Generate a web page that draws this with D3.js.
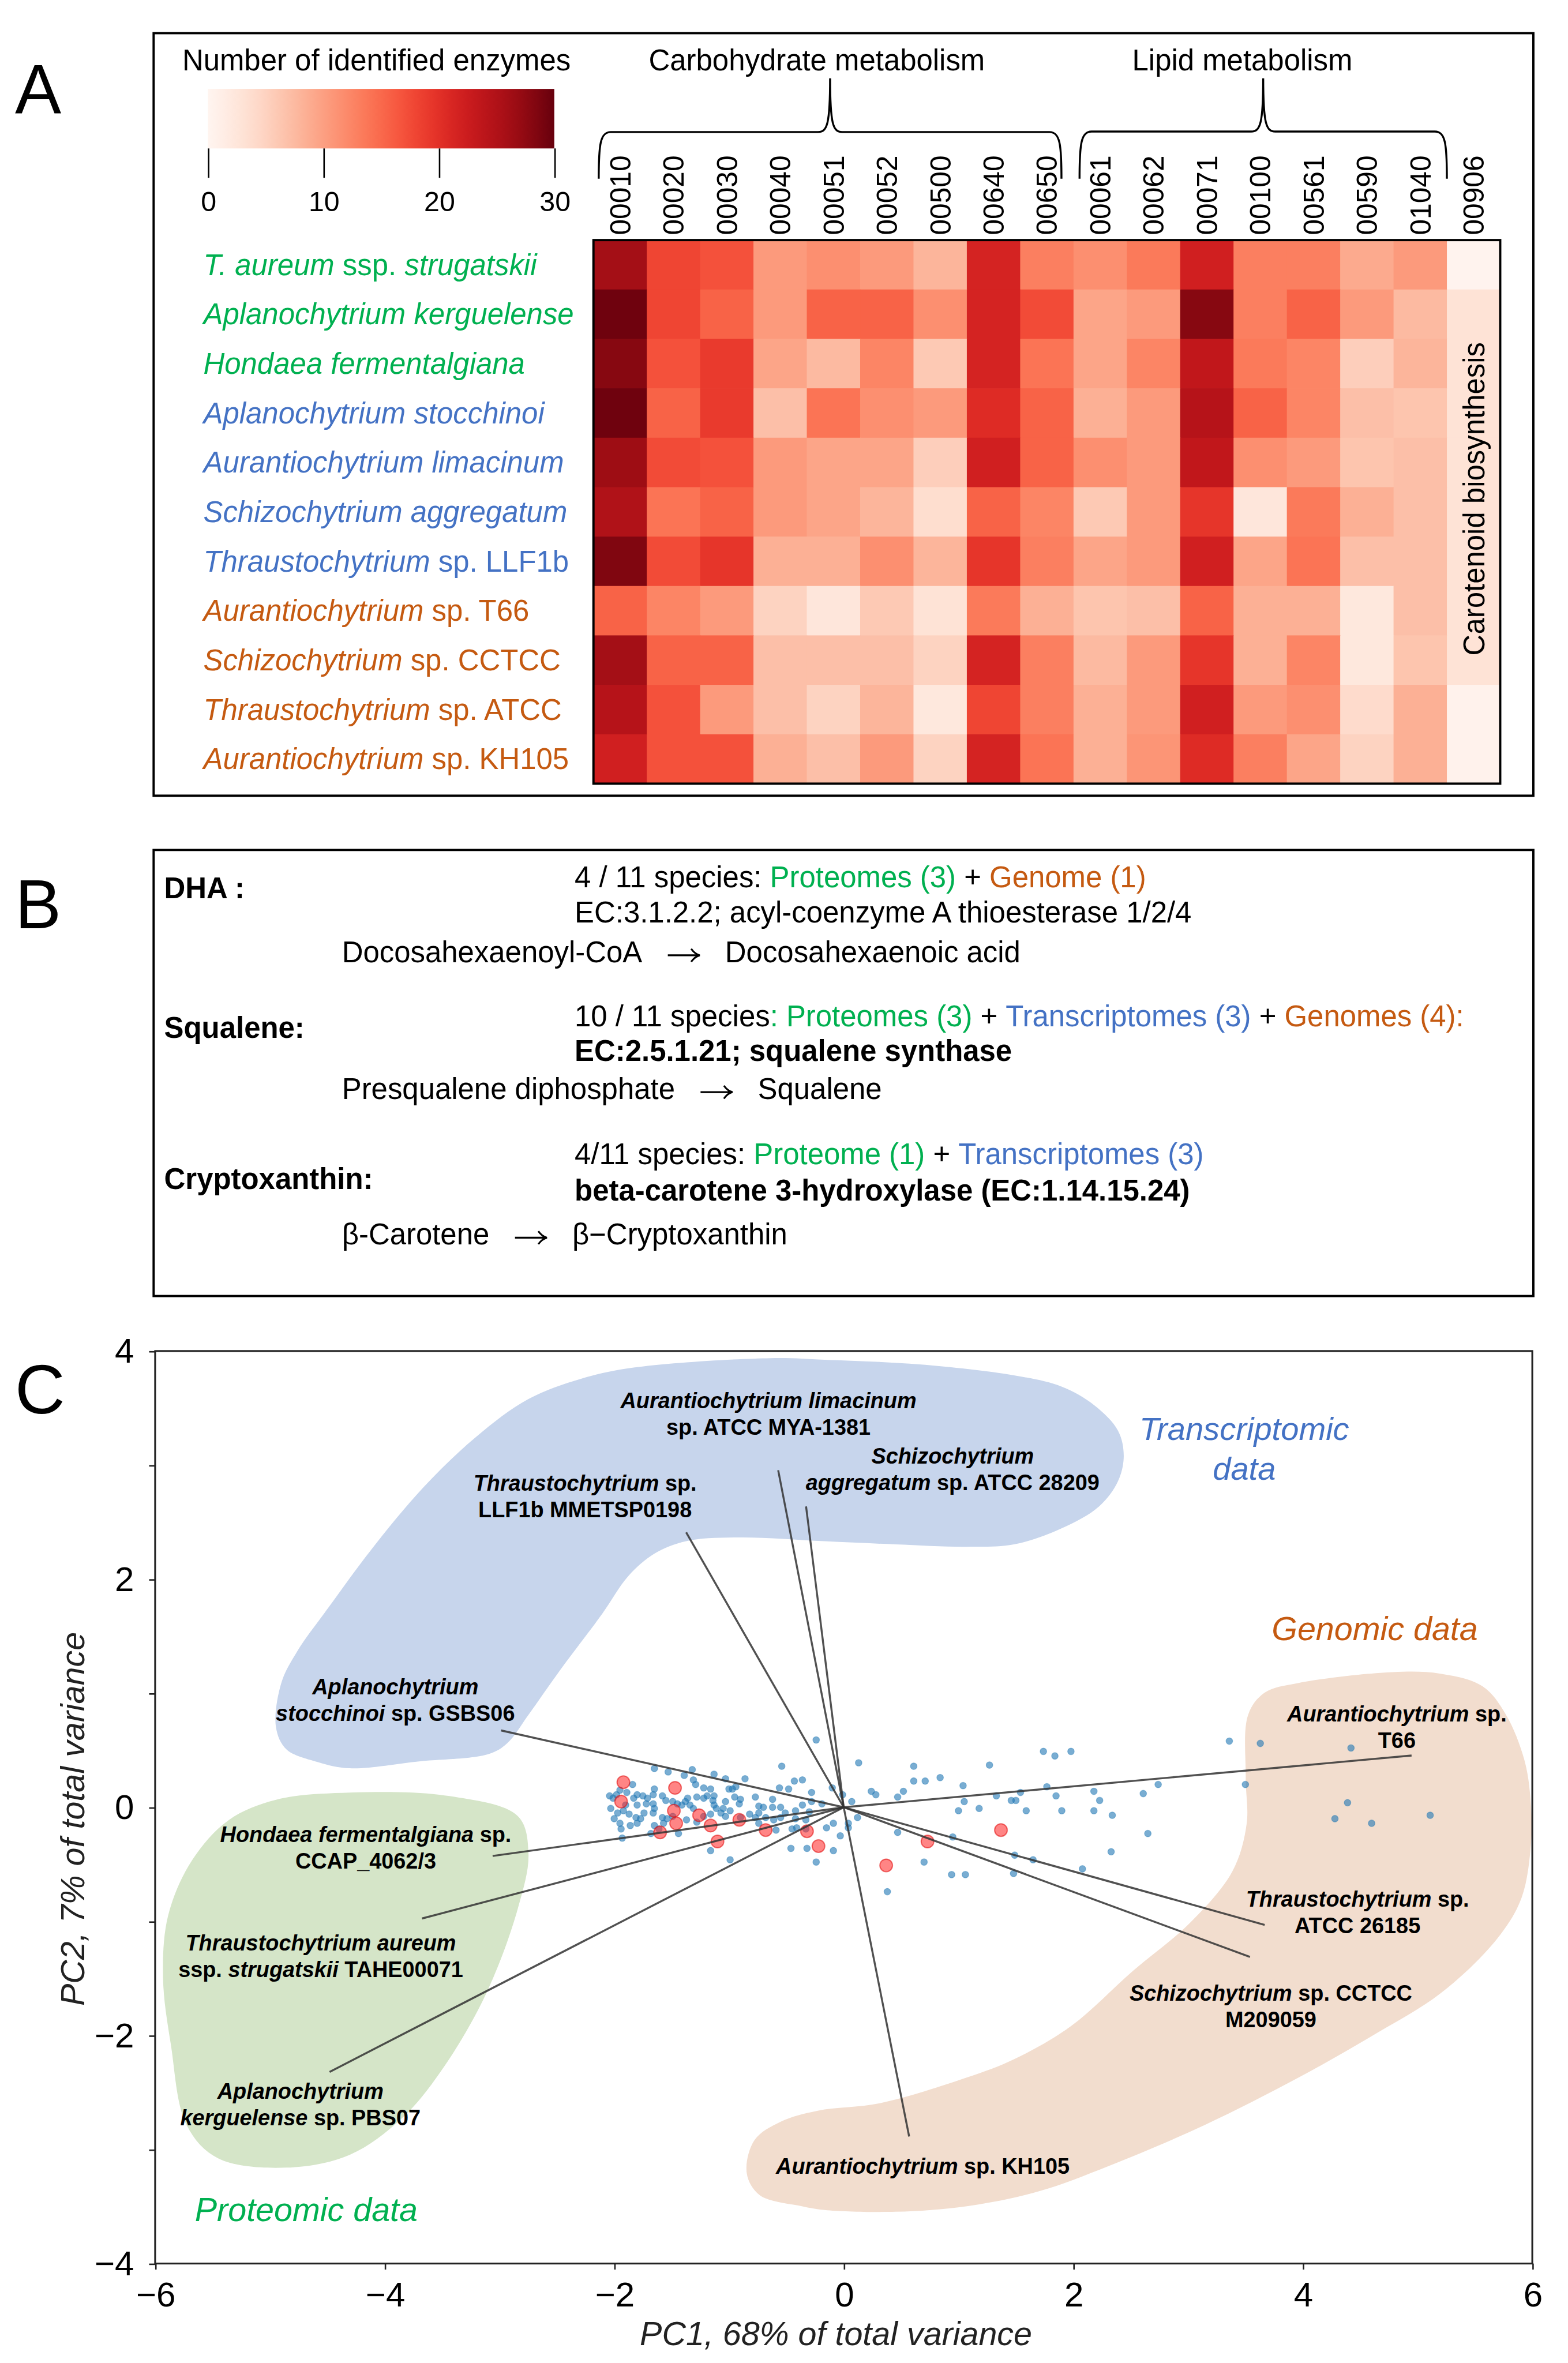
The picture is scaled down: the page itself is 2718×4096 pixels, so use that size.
<!DOCTYPE html>
<html>
<head>
<meta charset="utf-8">
<script src="https://cdn.jsdelivr.net/npm/d3@7"></script>
<style>
  body { margin: 0; background: #fff; }
  text { font-family: "Liberation Sans", Arial, sans-serif; white-space: pre; }
</style>
</head>
<body>
<script>
// ---------- panel A data ----------
var pathways = ["00010", "00020", "00030", "00040", "00051", "00052", "00500", "00640", "00650",
  "00061", "00062", "00071", "00100", "00561", "00590", "01040", "00906"];

var speciesNames = [
  [["T. aureum", "i"], [" ssp. ", "n"], ["strugatskii", "i"]],
  [["Aplanochytrium kerguelense", "i"]],
  [["Hondaea fermentalgiana", "i"]],
  [["Aplanochytrium stocchinoi", "i"]],
  [["Aurantiochytrium limacinum", "i"]],
  [["Schizochytrium aggregatum", "i"]],
  [["Thraustochytrium", "i"], [" sp. LLF1b", "n"]],
  [["Aurantiochytrium", "i"], [" sp. T66", "n"]],
  [["Schizochytrium", "i"], [" sp. CCTCC", "n"]],
  [["Thraustochytrium", "i"], [" sp. ATCC", "n"]],
  [["Aurantiochytrium", "i"], [" sp. KH105", "n"]]
];
var speciesSource = ["proteome", "proteome", "proteome", "transcriptome", "transcriptome", "transcriptome",
  "transcriptome", "genome", "genome", "genome", "genome"];
var sourceColors = { proteome: "#00b050", transcriptome: "#4472c4", genome: "#c55a11" };

// number of identified enzymes, one row per species, one column per pathway
var enzymeCounts = [
  [26, 18, 17, 10.5, 11.5, 10.5, 8, 21.5, 13, 11.5, 13.5, 22, 13, 13, 9, 10.5, 0.3],
  [29.5, 18, 15.5, 10.5, 15.5, 15.5, 11.5, 21.5, 17.5, 9.5, 10.5, 28, 13, 15.5, 10.5, 7.5, 3],
  [28, 17, 19, 9.5, 7.5, 12.5, 6, 21.5, 14, 9.5, 12.5, 23.5, 13.5, 12.5, 5.5, 8, 3],
  [29.5, 15.5, 19, 7, 14, 11.5, 10.5, 20.5, 15.5, 8.5, 10.5, 24.5, 15.5, 12.5, 7, 6.5, 3],
  [26.5, 17.5, 17, 10.5, 9.5, 9.5, 5.5, 22, 15.5, 11.5, 10.5, 23.5, 11.5, 10.5, 6.5, 7, 3],
  [25, 14, 15.5, 10.5, 9.5, 8, 3.7, 15.5, 12.5, 6, 10.5, 19.5, 2.5, 13.5, 8.5, 7, 3],
  [28.5, 17.5, 19.5, 8.5, 8.5, 11.5, 8, 19.5, 13, 9.5, 10.5, 22, 9.5, 14, 7, 7, 3],
  [15.5, 12.5, 10.5, 5, 2.5, 6, 3, 13.5, 8.5, 6.5, 7, 15.5, 8.5, 8.5, 2.3, 7, 3],
  [26, 15.5, 15.5, 7, 7, 7, 5, 21.5, 13, 7.5, 10.5, 19.5, 8.5, 12.5, 2.3, 6.5, 3],
  [24.5, 17, 10.5, 7, 5, 8, 2.3, 18, 13, 8.5, 10.5, 22, 10.5, 11.5, 4, 8.5, 0.5],
  [22, 17, 17, 8.5, 7, 10.5, 5, 21.5, 14, 8.5, 11, 20.5, 13, 9.5, 5, 8.5, 0.5]
];
var legendTicks = [0, 10, 20, 30];

// ---------- panel B text ----------
var noteTitles = ["DHA :", "Squalene:", "Cryptoxanthin:"];
var noteSources = [
  [["4 / 11 species: ", "k"], ["Proteomes (3)", "p"], [" + ", "k"], ["Genome (1)", "g"]],
  [["10 / 11 species", "k"], [": Proteomes (3)", "p"], [" + ", "k"], ["Transcriptomes (3)", "t"], [" + ", "k"], ["Genomes (4):", "g"]],
  [["4/11 species: ", "k"], ["Proteome (1)", "p"], [" + ", "k"], ["Transcriptomes (3)", "t"]]
];
var noteEnzymes = ["EC:3.1.2.2; acyl-coenzyme A thioesterase 1/2/4", "EC:2.5.1.21; squalene synthase",
  "beta-carotene 3-hydroxylase (EC:1.14.15.24)"];
var noteEnzymeBold = [false, true, true];
var noteReactions = [["Docosahexaenoyl-CoA", "Docosahexaenoic acid"], ["Presqualene diphosphate", "Squalene"],
  ["β-Carotene", "β−Cryptoxanthin"]];

// ---------- panel C data ----------
var geneScores = [
  [-0.24,0.59],[-0.54,0.36],[0.13,0.39],[0.61,0.36],[1.27,0.37],[1.74,0.49],[1.84,0.45],[1.98,0.49],
  [0.84,0.26],[0.61,0.23],[0.71,0.23],[1.04,0.19],[1.77,0.18],[2.18,0.14],[1.85,0.10],[1.54,0.13],
  [1.33,0.10],[1.46,0.06],[1.50,0.06],[1.05,0.05],[1.00,-0.03],[1.18,-0.01],[1.59,-0.03],[1.90,-0.03],
  [2.18,-0.03],[2.23,0.06],[0.52,0.14],[0.47,0.09],[0.28,0.11],[0.24,0.14],[0.07,0.05],[-0.10,0.17],
  [-0.19,0.03],[-0.28,0.13],[-0.28,0.05],[-0.36,0.24],[-0.43,0.23],[-0.48,0.16],[-0.56,0.17],[-0.55,0.00],
  [-0.62,0.00],[-0.62,0.07],[-0.70,0.00],[-0.74,0.01],[-0.77,0.09],[-0.86,0.25],[-1.03,0.25],[-1.13,0.29],
  [-1.32,0.33],[-1.39,0.28],[-1.53,0.31],[-1.65,0.34],[-1.65,0.16],[-1.31,0.24],[-1.29,0.20],[-1.22,0.17],
  [-1.16,0.16],[-1.00,0.16],[-0.97,0.16],[-0.94,0.18],[-0.95,0.09],[-0.90,0.07],[-0.91,0.03],[-1.03,0.05],
  [-1.14,0.06],[-1.13,0.10],[-1.19,0.10],[-1.22,0.08],[-1.28,0.09],[-1.36,0.08],[-1.38,0.05],[-1.34,0.02],
  [-1.31,-0.01],[-1.41,0.02],[-1.45,0.03],[-1.49,0.05],[-1.55,0.06],[-1.58,0.10],[-1.66,0.11],[-1.71,0.08],
  [-1.75,0.10],[-1.80,0.11],[-1.83,0.08],[-1.89,0.13],[-1.84,0.20],[-1.95,0.15],[-1.98,0.11],[-2.04,0.10],
  [-2.01,0.08],[-2.03,-0.01],[-1.97,-0.05],[-2.00,-0.10],[-1.95,-0.14],[-1.94,-0.19],[-1.86,-0.16],[-1.80,-0.14],
  [-1.77,-0.10],[-1.74,-0.05],[-1.81,-0.09],[-1.87,-0.06],[-1.92,-0.03],[-1.90,0.02],[-1.80,0.02],[-1.72,0.03],
  [-1.66,0.03],[-1.65,-0.01],[-1.66,-0.05],[-1.58,-0.09],[-1.54,-0.10],[-1.49,-0.08],[-1.57,-0.14],[-1.65,-0.16],
  [-1.68,-0.23],[-1.61,-0.19],[-1.44,-0.23],[-1.37,-0.11],[-1.28,-0.13],[-1.22,-0.08],[-1.16,-0.06],[-1.07,-0.05],
  [-1.03,-0.08],[-0.99,-0.03],[-1.05,-0.01],[-1.11,-0.01],[-1.13,0.02],[-0.90,-0.09],[-0.82,-0.06],[-0.77,-0.09],
  [-0.74,-0.05],[-0.74,-0.14],[-0.68,-0.09],[-0.61,-0.11],[-0.59,-0.20],[-0.55,-0.09],[-0.51,-0.05],[-0.42,-0.10],
  [-0.33,-0.11],[-0.33,-0.19],[-0.41,-0.18],[-0.45,-0.19],[-0.46,-0.36],[-0.32,-0.36],[-0.15,-0.18],[-0.09,-0.14],
  [-0.09,-0.38],[-0.03,-0.25],[0.04,-0.14],[0.04,-0.18],[0.12,-0.09],[-0.24,-0.48],[-0.99,-0.46],[-1.16,-0.38],
  [-1.93,-0.27],[0.47,-0.22],[0.95,-0.26],[1.49,-0.42],[1.65,-0.46],[1.48,-0.58],[1.06,-0.59],[0.94,-0.59],
  [0.70,-0.48],[0.38,-0.74],[2.08,-0.54],[-0.01,0.11],[-0.30,-0.04],[-0.42,-0.03],[-0.36,0.02],
  [3.36,0.58],[3.63,0.56],[4.42,0.52],[2.61,0.12],[2.74,0.20],[3.50,0.20],[4.39,0.04],[4.28,-0.10],
  [4.60,-0.14],[5.11,-0.07],[2.34,-0.07],[2.65,-0.23],[2.33,-0.39]
];
var highlightScores = [
  [-1.92,0.22],[-1.94,0.05],[-1.47,0.17],[-1.48,-0.03],[-1.46,-0.14],[-1.26,-0.07],[-1.16,-0.16],[-0.91,-0.11],
  [-1.60,-0.22],[-1.10,-0.30],[-0.68,-0.20],[-0.32,-0.21],[-0.22,-0.34],[0.37,-0.51],[0.73,-0.30],[1.37,-0.20]
];

var loadingPC1 = [-0.571, -1.373, -0.328, -2.986, -3.059, -3.675, -4.480, 4.948, 3.668, 3.540, 0.570];
var loadingPC2 = [2.955, 2.411, 2.638, 0.674, -0.427, -0.975, -2.320, 0.454, -1.031, -1.312, -2.886];
// label lines: [text, "i" italic | "n" upright]
var loadingLabels = [
  [[["Aurantiochytrium limacinum", "i"]], [["sp. ATCC MYA-1381", "n"]]],
  [[["Thraustochytrium", "i"], [" sp.", "n"]], [["LLF1b MMETSP0198", "n"]]],
  [[["Schizochytrium", "i"]], [["aggregatum", "i"], [" sp. ATCC 28209", "n"]]],
  [[["Aplanochytrium", "i"]], [["stocchinoi", "i"], [" sp. GSBS06", "n"]]],
  [[["Hondaea fermentalgiana", "i"], [" sp.", "n"]], [["CCAP_4062/3", "n"]]],
  [[["Thraustochytrium aureum", "i"]], [["ssp. ", "n"], ["strugatskii", "i"], [" TAHE00071", "n"]]],
  [[["Aplanochytrium", "i"]], [["kerguelense", "i"], [" sp. PBS07", "n"]]],
  [[["Aurantiochytrium", "i"], [" sp.", "n"]], [["T66", "n"]]],
  [[["Thraustochytrium", "i"], [" sp.", "n"]], [["ATCC 26185", "n"]]],
  [[["Schizochytrium", "i"], [" sp. CCTCC", "n"]], [["M209059", "n"]]],
  [[["Aurantiochytrium", "i"], [" sp. KH105", "n"]]]
];
var labelPC1 = [-0.656, -2.254, 0.949, -3.907, -4.165, -4.557, -4.734, 4.82, 4.477, 3.722, 0.689];
var labelPC2 = [3.501, 2.776, 3.011, 0.992, -0.305, -1.256, -2.556, 0.752, -0.869, -1.698, -3.214];

// outlines of the shaded groups, in PC coordinates
var transcriptomicArea = [[-0.639,3.938],[-0.167,3.924],[0.659,3.883],[1.483,3.787],[1.895,3.689],[2.184,3.524],
  [2.390,3.302],[2.440,3.081],[2.390,2.859],[2.225,2.638],[1.895,2.444],[1.483,2.305],[1.071,2.284],[0.453,2.305],
  [-0.167,2.333],[-0.915,2.366],[-1.373,2.333],[-1.647,2.225],[-1.877,2.027],[-2.105,1.696],[-2.473,1.200],
  [-2.747,0.811],[-2.931,0.563],[-3.091,0.468],[-3.701,0.402],[-4.305,0.342],[-4.581,0.396],[-4.855,0.507],
  [-4.947,0.702],[-4.901,1.089],[-4.763,1.366],[-4.489,1.752],[-4.123,2.251],[-3.663,2.804],[-3.205,3.246],
  [-2.747,3.579],[-2.289,3.757],[-1.831,3.855]];
var genomicArea = [[3.524,0.811],[3.668,1.005],[3.957,1.089],[4.781,1.185],[5.194,1.172],[5.565,1.062],[5.771,0.811],
  [5.936,0.396],[5.990,-0.008],[5.990,-0.305],[5.908,-0.789],[5.700,-1.144],[5.205,-1.628],[4.585,-2.015],
  [3.965,-2.369],[3.140,-2.788],[2.313,-3.143],[1.693,-3.369],[1.074,-3.497],[0.453,-3.546],[-0.167,-3.530],
  [-0.365,-3.497],[-0.731,-3.401],[-0.845,-3.208],[-0.777,-2.917],[-0.549,-2.756],[-0.227,-2.660],[0.314,-2.595],
  [1.074,-2.369],[1.486,-2.208],[1.982,-1.917],[2.519,-1.435],[3.015,-1.015],[3.386,-0.563],[3.511,-0.144],
  [3.503,0.259]];
var proteomicArea = [[-4.305,0.129],[-3.435,0.098],[-2.839,-0.079],[-2.747,-0.402],[-2.839,-0.885],[-3.113,-1.628],
  [-3.481,-2.272],[-3.847,-2.724],[-4.305,-3.047],[-4.855,-3.159],[-5.451,-3.078],[-5.725,-2.788],[-5.863,-2.080],
  [-5.931,-1.498],[-5.887,-0.950],[-5.679,-0.466],[-5.359,-0.112],[-4.947,0.066]];

var pc1Ticks = [-6, -4, -2, 0, 2, 4, 6];
var pc2Ticks = [-4, -3, -2, -1, 0, 1, 2, 3, 4];

// ---------- drawing ----------
var FONT = "Liberation Sans, Arial, sans-serif";
var svg = d3.select("body").append("svg")
  .attr("width", 2718).attr("height", 4096)
  .attr("viewBox", "0 0 1041 1568")
  .attr("preserveAspectRatio", "none");
var defs = svg.append("defs");

function rich(sel, parts, styleFn) {
  parts.forEach(function (p) {
    var t = sel.append("tspan").text(p[0]);
    styleFn(t, p[1]);
  });
}

// ===== Panel A =====
var gA = svg.append("g");
gA.append("rect").attr("x", 102).attr("y", 22).attr("width", 916).attr("height", 506)
  .attr("fill", "none").attr("stroke", "#000").attr("stroke-width", 1.5);
gA.append("text").attr("x", 10).attr("y", 75).attr("font-size", 46).text("A");

var color = d3.scaleSequential(d3.interpolateReds).domain([0, 30]);

// colour bar
var cb = d3.scaleLinear().domain([0, 30]).range([138, 368]);
var grad = defs.append("linearGradient").attr("id", "redsGrad");
grad.selectAll("stop").data(d3.range(0, 1.0001, 0.05)).enter().append("stop")
  .attr("offset", function (d) { return d; })
  .attr("stop-color", function (d) { return color(d * 30); });
gA.append("rect").attr("x", cb(0)).attr("y", 59).attr("width", cb(30) - cb(0)).attr("height", 39.5)
  .attr("fill", "url(#redsGrad)");
gA.append("g").attr("transform", "translate(0,98.5)")
  .call(d3.axisBottom(cb).tickValues(legendTicks).tickSize(19.5).tickPadding(9).tickFormat(d3.format("d")))
  .call(function (g) { g.select(".domain").remove(); })
  .attr("font-family", FONT)
  .call(function (g) {
    g.selectAll("line").attr("stroke", "#000").attr("stroke-width", 1);
    g.selectAll("text").attr("font-size", 18.5).attr("fill", "#000");
  });
gA.append("text").attr("x", 121).attr("y", 46.8).attr("font-size", 19.5).text("Number of identified enzymes");
gA.append("text").attr("x", 542.3).attr("y", 46.8).attr("font-size", 19.5).attr("text-anchor", "middle")
  .text("Carbohydrate metabolism");
gA.append("text").attr("x", 824.8).attr("y", 46.8).attr("font-size", 19.5).attr("text-anchor", "middle")
  .text("Lipid metabolism");

// heatmap
var hx = d3.scaleBand().domain(pathways).range([394, 996]);
var hy = d3.scaleBand().domain(d3.range(speciesNames.length)).range([159.3, 520]);
var cells = [];
enzymeCounts.forEach(function (row, i) {
  row.forEach(function (v, j) { cells.push({ r: i, p: pathways[j], v: v }); });
});
gA.append("g").selectAll("rect").data(cells).enter().append("rect")
  .attr("x", function (d) { return hx(d.p); })
  .attr("y", function (d) { return hy(d.r); })
  .attr("width", hx.bandwidth() + 0.3)
  .attr("height", hy.bandwidth() + 0.3)
  .attr("fill", function (d) { return color(d.v); });
gA.append("rect").attr("x", 394).attr("y", 159.3).attr("width", 602).attr("height", 360.7)
  .attr("fill", "none").attr("stroke", "#000").attr("stroke-width", 1.5);

// pathway labels
gA.append("g").selectAll("text").data(pathways).enter().append("text")
  .attr("transform", function (d) { return "translate(" + (hx(d) + hx.bandwidth() / 2) + ",156) rotate(-90)"; })
  .attr("dy", "0.36em").attr("font-size", 19).text(function (d) { return d; });

gA.append("text")
  .attr("transform", "translate(" + (hx("00906") + hx.bandwidth() / 2) + ",331) rotate(-90)")
  .attr("text-anchor", "middle").attr("dy", "0.36em").attr("font-size", 19.5)
  .text("Carotenoid biosynthesis");

// species labels
speciesNames.forEach(function (parts, i) {
  var t = gA.append("text").attr("x", 135).attr("y", hy(i) + hy.bandwidth() / 2 + 6.8)
    .attr("font-size", 19.5).attr("fill", sourceColors[speciesSource[i]]);
  rich(t, parts, function (s, k) { s.attr("font-style", k === "i" ? "italic" : "normal"); });
});

// braces
function brace(x0, x1, yEnd, yBar, yTip) {
  var xm = (x0 + x1) / 2, p = d3.path();
  p.moveTo(x0, yEnd);
  p.bezierCurveTo(x0, yBar + 8, x0 + 1, yBar, x0 + 8, yBar);
  p.lineTo(xm - 8, yBar);
  p.bezierCurveTo(xm - 2, yBar, xm, yBar - 5, xm, yTip);
  p.bezierCurveTo(xm, yBar - 5, xm + 2, yBar, xm + 8, yBar);
  p.lineTo(x1 - 8, yBar);
  p.bezierCurveTo(x1 - 1, yBar, x1, yBar + 8, x1, yEnd);
  gA.append("path").attr("d", p.toString()).attr("fill", "none").attr("stroke", "#000").attr("stroke-width", 1.3);
}
brace(hx("00010") + 3.5, hx("00650") + hx.bandwidth() - 8, 118.6, 87.6, 52);
brace(hx("00061") + 4, hx("01040") + hx.bandwidth(), 118.6, 87.3, 52);

// ===== Panel B =====
var gB = svg.append("g");
gB.append("rect").attr("x", 102).attr("y", 564).attr("width", 916).attr("height", 296)
  .attr("fill", "none").attr("stroke", "#000").attr("stroke-width", 1.5);
gB.append("text").attr("x", 10).attr("y", 616).attr("font-size", 46).text("B");

var noteTitleY = [595.9, 688.7, 789.1];
var noteSourceY = [588.8, 681, 772.7];
var noteEnzymeY = [612, 704.1, 796.8];
var noteReactionY = [638.4, 729.2, 825.8];
var textColors = { k: "#000", p: "#00b050", t: "#4472c4", g: "#c55a11" };

noteTitles.forEach(function (title, i) {
  gB.append("text").attr("x", 109).attr("y", noteTitleY[i]).attr("font-size", 19.5)
    .attr("font-weight", "bold").text(title);
  var s = gB.append("text").attr("x", 381.5).attr("y", noteSourceY[i]).attr("font-size", 19.5);
  rich(s, noteSources[i], function (t, k) { t.attr("fill", textColors[k]); });
  gB.append("text").attr("x", 381.5).attr("y", noteEnzymeY[i]).attr("font-size", 19.5)
    .attr("font-weight", noteEnzymeBold[i] ? "bold" : "normal").text(noteEnzymes[i]);
  var left = gB.append("text").attr("x", 227).attr("y", noteReactionY[i]).attr("font-size", 19.5)
    .text(noteReactions[i][0]);
  // long reaction arrow
  var xa = 227 + left.node().getComputedTextLength() + 17, ya = noteReactionY[i] - 4.5;
  var arrow = d3.path();
  arrow.moveTo(xa, ya); arrow.lineTo(xa + 21, ya);
  arrow.moveTo(xa + 15.5, ya - 4.3); arrow.quadraticCurveTo(xa + 18, ya - 0.8, xa + 21.2, ya);
  arrow.quadraticCurveTo(xa + 18, ya + 0.8, xa + 15.5, ya + 4.3);
  gB.append("path").attr("d", arrow.toString()).attr("fill", "none").attr("stroke", "#000").attr("stroke-width", 1.2);
  gB.append("text").attr("x", xa + 21 + 17).attr("y", noteReactionY[i]).attr("font-size", 19.5)
    .text(noteReactions[i][1]);
});

// ===== Panel C =====
var gC = svg.append("g");
gC.append("text").attr("x", 10).attr("y", 938).attr("font-size", 46).text("C");

var px = d3.scaleLinear().domain([-6, 6]).range([103, 1017.3]);
var py = d3.scaleLinear().domain([-4, 4]).range([1502, 896.5]);

defs.append("clipPath").attr("id", "plotClip").append("rect")
  .attr("x", px(-6)).attr("y", py(4)).attr("width", px(6) - px(-6)).attr("height", py(-4) - py(4));

var area = d3.line().x(function (d) { return px(d[0]); }).y(function (d) { return py(d[1]); })
  .curve(d3.curveCatmullRomClosed.alpha(0.5));
var blobs = gC.append("g").attr("clip-path", "url(#plotClip)");
blobs.append("path").attr("d", area(transcriptomicArea)).attr("fill", "#c7d5ec");
blobs.append("path").attr("d", area(genomicArea)).attr("fill", "#f2ddce");
blobs.append("path").attr("d", area(proteomicArea)).attr("fill", "#d5e5c8");

// group names
gC.append("text").attr("x", px(3.49)).attr("y", py(3.218)).attr("text-anchor", "middle")
  .attr("font-size", 21.5).attr("font-style", "italic").attr("fill", "#4472c4").text("Transcriptomic");
gC.append("text").attr("x", px(3.49)).attr("y", py(2.872)).attr("text-anchor", "middle")
  .attr("font-size", 21.5).attr("font-style", "italic").attr("fill", "#4472c4").text("data");
gC.append("text").attr("x", px(4.627)).attr("y", py(1.463)).attr("text-anchor", "middle")
  .attr("font-size", 22).attr("font-style", "italic").attr("fill", "#c55a11").text("Genomic data");
gC.append("text").attr("x", px(-4.683)).attr("y", py(-3.627)).attr("text-anchor", "middle")
  .attr("font-size", 22).attr("font-style", "italic").attr("fill", "#00b050").text("Proteomic data");

// gene scores
gC.append("g").selectAll("circle").data(geneScores).enter().append("circle")
  .attr("cx", function (d) { return px(d[0]); })
  .attr("cy", function (d) { return py(d[1]); })
  .attr("r", 2.2).attr("fill", "#1f77b4").attr("fill-opacity", 0.6)
  .attr("stroke", "#1f77b4").attr("stroke-opacity", 0.4).attr("stroke-width", 0.5);
gC.append("g").selectAll("circle").data(highlightScores).enter().append("circle")
  .attr("cx", function (d) { return px(d[0]); })
  .attr("cy", function (d) { return py(d[1]); })
  .attr("r", 4.2).attr("fill", "#ff2020").attr("fill-opacity", 0.55)
  .attr("stroke", "#e00000").attr("stroke-opacity", 0.5).attr("stroke-width", 0.8);

// loadings
gC.append("g").selectAll("line").data(loadingPC1).enter().append("line")
  .attr("x1", px(0)).attr("y1", py(0))
  .attr("x2", function (d) { return px(d); })
  .attr("y2", function (d, i) { return py(loadingPC2[i]); })
  .attr("stroke", "#333").attr("stroke-opacity", 0.85).attr("stroke-width", 1.3);

loadingLabels.forEach(function (lines, i) {
  lines.forEach(function (parts, j) {
    var t = gC.append("text").attr("x", px(labelPC1[i])).attr("y", py(labelPC2[i]) + j * 17.6)
      .attr("text-anchor", "middle").attr("font-size", 14.5).attr("font-weight", "bold").attr("fill", "#000");
    rich(t, parts, function (s, k) { s.attr("font-style", k === "i" ? "italic" : "normal"); });
  });
});

// frame and axes
gC.append("rect").attr("x", px(-6)).attr("y", py(4)).attr("width", px(6) - px(-6)).attr("height", py(-4) - py(4))
  .attr("fill", "none").attr("stroke", "#222").attr("stroke-width", 1.2);
var fmt = d3.format("d");
gC.append("g").attr("transform", "translate(" + px(-6) + ",0)")
  .call(d3.axisLeft(py).tickValues(pc2Ticks).tickSize(4).tickPadding(10)
    .tickFormat(function (d) { return d % 2 === 0 ? fmt(d) : ""; }))
  .attr("font-family", FONT)
  .call(function (g) {
    g.select(".domain").remove();
    g.selectAll("line").attr("stroke", "#222");
    g.selectAll("text").attr("font-size", 23).attr("fill", "#000");
  });
gC.append("g").attr("transform", "translate(0," + py(-4) + ")")
  .call(d3.axisBottom(px).tickValues(pc1Ticks).tickSize(4).tickPadding(8).tickFormat(fmt))
  .attr("font-family", FONT)
  .call(function (g) {
    g.select(".domain").remove();
    g.selectAll("line").attr("stroke", "#222");
    g.selectAll("text").attr("font-size", 23).attr("fill", "#000");
  });

gC.append("text").attr("x", 555).attr("y", 1556).attr("text-anchor", "middle")
  .attr("font-size", 22).attr("font-style", "italic").attr("fill", "#222").text("PC1, 68% of total variance");
gC.append("text").attr("transform", "translate(56,1207) rotate(-90)").attr("text-anchor", "middle")
  .attr("font-size", 22).attr("font-style", "italic").attr("fill", "#222").text("PC2, 7% of total variance");
</script>
</body>
</html>
